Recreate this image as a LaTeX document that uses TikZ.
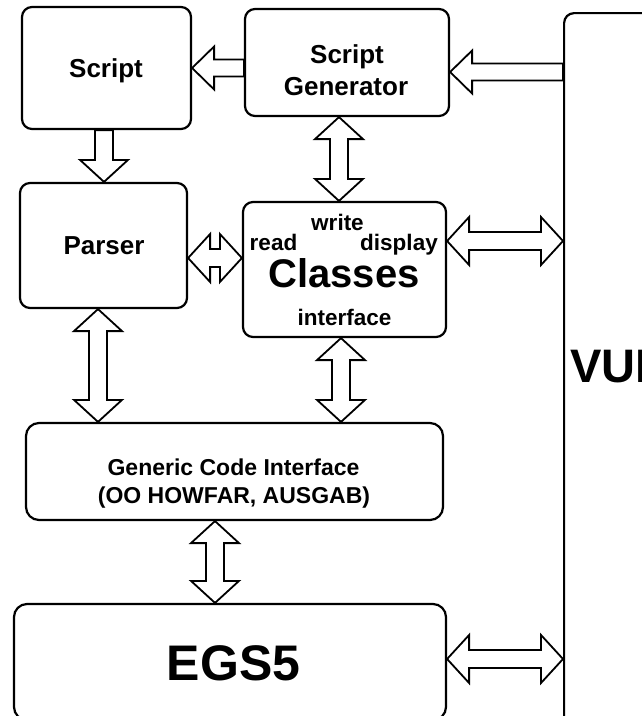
\documentclass[tikz,border=0pt]{standalone}
\usepackage{fontspec}
\setmainfont{Liberation Sans}
\usetikzlibrary{calc}

% block-arrow geometry: head half-width, shaft half-width, head length
\def\hw{24}
\def\sw{9}
\def\hl{22}

\tikzset{
  box/.style={draw, line width=2.2pt, rounded corners=10pt, inner sep=0pt},
  blockarrow/.style={draw, fill=white, line width=1.8pt, line join=miter},
  lbl/.style={inner sep=0pt, font=\bfseries\fontsize{#1}{#1}\selectfont},
  lbl/.default=26
}

% end points of a vertical block arrow at abscissa #2 between anchors #3 and #4
\newcommand\VEnds[4]{%
  \coordinate (#1a) at (perpendicular cs: horizontal line through={(#3)}, vertical line through={(#2,0)});
  \coordinate (#1b) at (perpendicular cs: horizontal line through={(#4)}, vertical line through={(#2,0)});
}
% end points of a horizontal block arrow at ordinate #2 between anchors #3 and #4
\newcommand\HEnds[4]{%
  \coordinate (#1a) at (perpendicular cs: vertical line through={(#3)}, horizontal line through={(0,#2)});
  \coordinate (#1b) at (perpendicular cs: vertical line through={(#4)}, horizontal line through={(0,#2)});
}

% vertical two-headed block arrow: name, x, upper end, lower end
\newcommand\VDouble[4]{%
  \VEnds{#1}{#2}{#3}{#4}
  \draw[blockarrow] (#1a) -- ++(\hw,\hl) -- ++(-\hw+\sw,0)
    -- ($(#1b)+(\sw,-\hl)$) -- ++(\hw-\sw,0) -- (#1b)
    -- ++(-\hw,-\hl) -- ++(\hw-\sw,0)
    -- ($(#1a)+(-\sw,\hl)$) -- ++(-\hw+\sw,0) -- cycle;
}
% vertical one-headed block arrow pointing down: name, x, tail end, tip
\newcommand\VDown[4]{%
  \VEnds{#1}{#2}{#3}{#4}
  \draw[blockarrow] ($(#1a)+(-\sw,0)$) -- ($(#1a)+(\sw,0)$)
    -- ($(#1b)+(\sw,-\hl)$) -- ++(\hw-\sw,0) -- (#1b)
    -- ++(-\hw,-\hl) -- ++(\hw-\sw,0) -- cycle;
}
% horizontal two-headed block arrow: name, y, left end, right end
\newcommand\HDouble[4]{%
  \HEnds{#1}{#2}{#3}{#4}
  \draw[blockarrow] (#1a) -- ++(\hl,-\hw) -- ++(0,\hw-\sw)
    -- ($(#1b)+(-\hl,-\sw)$) -- ++(0,-\hw+\sw) -- (#1b)
    -- ++(-\hl,\hw) -- ++(0,-\hw+\sw)
    -- ($(#1a)+(\hl,\sw)$) -- ++(0,\hw-\sw) -- cycle;
}
% horizontal one-headed block arrow pointing left: name, y, tip, tail end
\newcommand\HLeft[4]{%
  \HEnds{#1}{#2}{#3}{#4}
  \draw[blockarrow] (#1a) -- ++(\hl,-\hw) -- ++(0,\hw-\sw)
    -- ($(#1b)+(0,-\sw)$) -- ($(#1b)+(0,\sw)$)
    -- ($(#1a)+(\hl,\sw)$) -- ++(0,\hw-\sw) -- cycle;
}

\begin{document}
\begin{tikzpicture}[x=1pt, y=-1pt]
  \useasboundingbox (0,0) rectangle (642,716);
  \clip (0,0) rectangle (642,716);

  % boxes
  \node[box, minimum width=169pt, minimum height=122pt] (script)  at (106.5,68)  {};
  \node[box, minimum width=204pt, minimum height=107pt] (sgen)    at (347,62.5)  {};
  \node[box, minimum width=167pt, minimum height=125pt] (parser)  at (103.5,245.5) {};
  \node[box, minimum width=203pt, minimum height=135pt] (classes) at (344.5,269.5) {};
  \node[box, minimum width=417pt, minimum height=97pt, rounded corners=13pt] (gci) at (234.5,471.5) {};
  \node[box, minimum width=432pt, minimum height=116pt, rounded corners=13pt] (egs) at (230,662) {};
  \node[box, minimum width=150pt, minimum height=760pt, anchor=north west] (vui) at (563,12) {};

  % labels
  \node[lbl, anchor=base] (tscript) at (106,77.5) {Script};
  \node[lbl, anchor=base] (tsgA) at (347,63) {Script};
  \node[lbl, anchor=base] (tsgB) at (346,95) {Generator};
  \node[lbl, anchor=base] (tparser) at (104,254) {Parser};
  \node[lbl=22.5, anchor=base] (tread) at (273.5,250) {read};
  \node[lbl=22.5, anchor=base] (twrite) at (337.5,230) {write};
  \node[lbl=22.5, anchor=base] (tdisplay) at (399,250) {display};
  \node[lbl=40, anchor=base] (tclasses) at (344,287) {Classes};
  \node[lbl=22.5, anchor=base] (tinterface) at (344.5,325) {interface};
  \node[lbl=23, anchor=base] (tgciA) at (233.5,475) {Generic Code Interface};
  \node[lbl=23, anchor=base] (tgciB) at (234,503) {(OO HOWFAR, AUSGAB)};
  \node[lbl=50, anchor=base] (tegs) at (233.5,680) {EGS5};
  \node[lbl=47, anchor=base west] (tvui) at (570,382) {VUI};

  % connectors
  \VDown{sp}{104}{script.south}{parser.north}
  \VDouble{gc}{339}{sgen.south}{classes.north}
  \HDouble{pc}{258}{parser.east}{classes.west}
  \HDouble{cv}{241}{classes.east}{vui.west}
  \VDouble{pg}{98}{parser.south}{gci.north}
  \VDouble{cg}{341}{classes.south}{gci.north}
  \VDouble{ge}{215}{gci.south}{egs.north}
  \HDouble{ev}{659}{egs.east}{vui.west}
  \def\hw{21.5}\def\sw{8.5}
  \HLeft{gs}{68}{script.east}{sgen.west}
  \HLeft{vg}{72}{sgen.east}{vui.west}
\end{tikzpicture}
\end{document}
